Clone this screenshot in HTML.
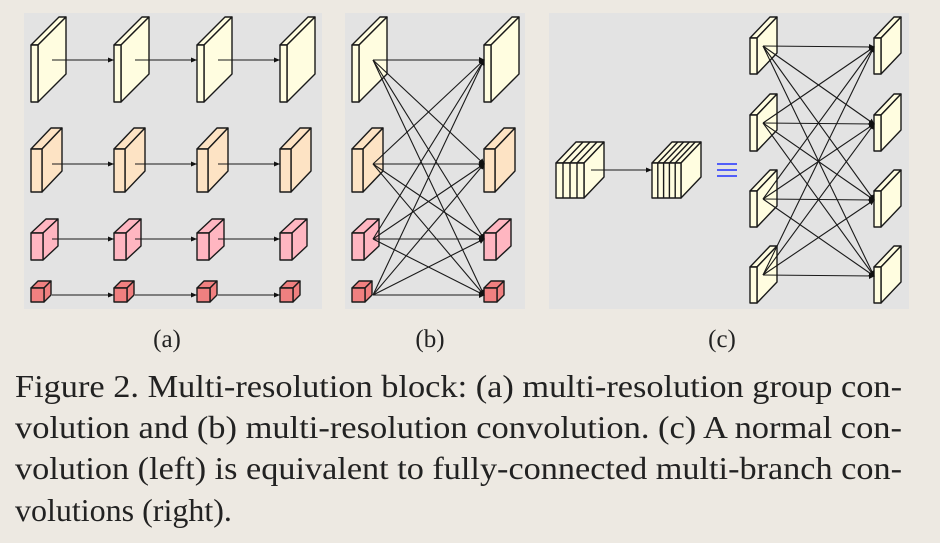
<!DOCTYPE html>
<html><head><meta charset="utf-8"><style>
html,body{margin:0;padding:0;background:#ede9e2;}
svg{display:block;}
text{font-family:"Liberation Serif",serif;fill:#222;}
</style></head><body>
<svg width="940" height="543" viewBox="0 0 940 543" xmlns="http://www.w3.org/2000/svg">
<defs>
<marker id="ar" markerWidth="6" markerHeight="6" refX="6" refY="3" orient="auto" markerUnits="userSpaceOnUse"><path d="M0,0.5 L6,3 L0,5.5z" fill="#111"/></marker>
<marker id="dot" markerWidth="6" markerHeight="8" refX="5" refY="4" orient="auto" markerUnits="userSpaceOnUse"><path d="M0,1 L6,4 L0,7z" fill="#111"/></marker>
</defs>
<rect width="940" height="543" fill="#ede9e2"/>
<rect x="24" y="13" width="298" height="296" fill="#e3e3e3"/>
<rect x="345" y="13" width="180" height="296" fill="#e3e3e3"/>
<rect x="549" y="13" width="360" height="296" fill="#e3e3e3"/>
<g id="all" stroke="#1a1a1a" stroke-width="1.4" stroke-linejoin="round"></g>
<g font-size="25"><text x="167" y="347" text-anchor="middle">(a)</text><text x="430" y="347" text-anchor="middle">(b)</text><text x="722" y="347" text-anchor="middle">(c)</text></g>
<g font-size="32">
<text x="15" y="397" textLength="887" lengthAdjust="spacingAndGlyphs">Figure 2. Multi-resolution block: (a) multi-resolution group con-</text>
<text x="15" y="438" textLength="887" lengthAdjust="spacingAndGlyphs">volution and (b) multi-resolution convolution. (c) A normal con-</text>
<text x="15" y="479" textLength="887" lengthAdjust="spacingAndGlyphs">volution (left) is equivalent to fully-connected multi-branch con-</text>
<text x="15" y="521">volutions (right).</text>
</g>
<g stroke="#2233ff" stroke-width="1.6"><line x1="717" y1="164" x2="737" y2="164"/><line x1="717" y1="170" x2="737" y2="170"/><line x1="717" y1="176" x2="737" y2="176"/></g>
</svg>
<script>
var g=document.getElementById('all'),NS="http://www.w3.org/2000/svg";
function el(t,a){var e=document.createElementNS(NS,t);for(var k in a)e.setAttribute(k,a[k]);g.appendChild(e);return e;}
function box(x,y,w,h,dx,d,c){
 el('polygon',{points:[x,y,x+w,y,x+w+dx,y-d,x+dx,y-d].join(' '),fill:c});
 el('polygon',{points:[x+w,y,x+w+dx,y-d,x+w+dx,y+h-d,x+w,y+h].join(' '),fill:c});
 el('rect',{x:x,y:y,width:w,height:h,fill:c});
}
function ln(x1,y1,x2,y2,m){el('line',{x1:x1,y1:y1,x2:x2,y2:y2,'marker-end':'url(#'+m+')',stroke:'#1a1a1a','stroke-width':1.1});}
var rows=[{y:45,w:7,h:57,dx:28,d:28,c:'#fffde0',ay:60},{y:149,w:11,h:43,dx:20,d:21,c:'#fde3c4',ay:164},{y:233,w:12,h:27,dx:15,d:14,c:'#ffb6c1',ay:239},{y:288,w:13,h:14,dx:7,d:7,c:'#f08080',ay:295}];
var cols=[31,114,197,280];
rows.forEach(function(r){cols.forEach(function(x,i){box(x,r.y,r.w,r.h,r.dx,r.d,r.c);});
 for(var i=0;i<3;i++)ln(cols[i]+21,r.ay,cols[i+1],r.ay,'ar');});
rows.forEach(function(r){box(352,r.y,r.w,r.h,r.dx,r.d,r.c);box(484,r.y,r.w,r.h,r.dx,r.d,r.c);});
rows.forEach(function(a){rows.forEach(function(b){ln(373,a.ay,484,b.ay,'dot');});});
function stack(x,n,sw){var w=n*sw;box(x,163,w,35,20,21,'#fffde0');
 for(var i=1;i<n;i++){var xx=x+i*sw;el('line',{x1:xx,y1:163,x2:xx,y2:198});el('line',{x1:xx,y1:163,x2:xx+20,y2:142});}}
stack(556,4,7);stack(652,5,5.8);
ln(591,170,652,170,'ar');
var tops=[38,115,191,267];
tops.forEach(function(t){box(750,t,7,36,20,21,'#fffde0');box(874,t,7,36,20,21,'#fffde0');});
tops.forEach(function(a){tops.forEach(function(b){ln(763,a+8,874,b+9,'dot');});});
</script>
</body></html>
